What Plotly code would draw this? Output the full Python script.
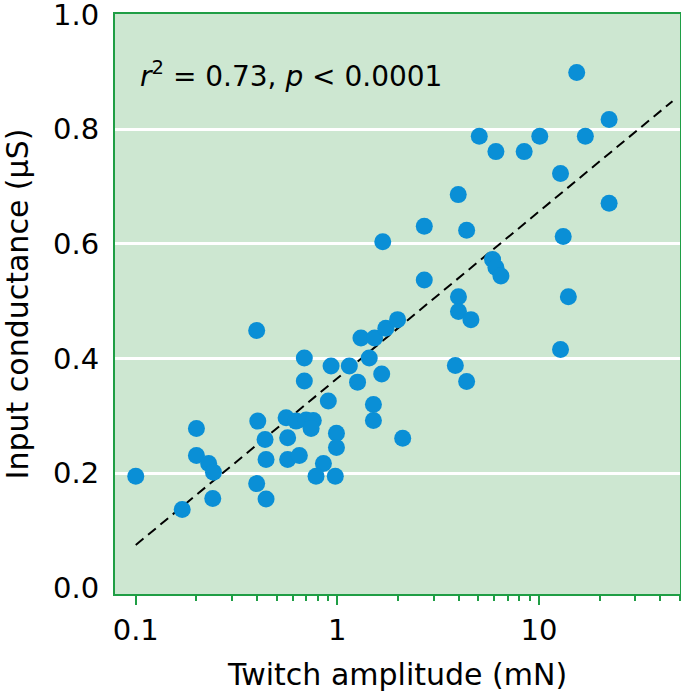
import plotly.graph_objects as go

# Data
twitch_mN = [0.10, 0.170, 0.200, 0.200, 0.230, 0.243, 0.241, 0.398, 0.403, 0.438,
             0.443, 0.398, 0.443, 0.557, 0.567, 0.567, 0.648, 0.624, 0.700, 0.760,
             0.741, 0.686, 0.686, 0.931, 1.147, 1.26, 1.44, 1.66, 1.31, 1.53,
             1.74, 1.99, 0.902, 1.51, 1.51, 2.11, 0.99, 0.99, 0.853, 0.784,
             0.977, 2.70, 4.38, 3.98, 1.68, 5.89, 6.12, 6.48, 2.70, 3.99,
             3.99, 4.60, 3.85, 4.38, 15.4, 22.3, 5.06, 10.1, 17.0, 6.12,
             8.45, 12.8, 22.3, 13.2, 14.0, 12.8]
conductance_uS = [0.195, 0.137, 0.278, 0.231, 0.217, 0.202, 0.156, 0.449, 0.291, 0.259,
                  0.224, 0.182, 0.155, 0.297, 0.262, 0.224, 0.231, 0.291, 0.293, 0.292,
                  0.278, 0.401, 0.361, 0.387, 0.387, 0.359, 0.401, 0.373, 0.436, 0.436,
                  0.453, 0.468, 0.326, 0.320, 0.292, 0.261, 0.270, 0.245, 0.217, 0.195,
                  0.195, 0.631, 0.624, 0.686, 0.604, 0.573, 0.559, 0.544, 0.537, 0.508,
                  0.482, 0.468, 0.388, 0.360, 0.899, 0.817, 0.788, 0.788, 0.788, 0.761,
                  0.761, 0.723, 0.671, 0.613, 0.508, 0.416]

fit_x = [0.1, 46.0]
fit_y = [0.075, 0.849]

x_tickvals = [0.1, 1, 10]
x_ticktext = ["0.1", "1", "10"]
x_minor = [0.2, 0.3, 0.4, 0.5, 0.6, 0.7, 0.8, 0.9,
           2, 3, 4, 5, 6, 7, 8, 9, 20, 30, 40, 50]
y_tickvals = [0.0, 0.2, 0.4, 0.6, 0.8, 1.0]
y_ticktext = ["0.0", "0.2", "0.4", "0.6", "0.8", "1.0"]

GREEN = "#1f9e45"
BG = "#cde7d1"
FONT = "DejaVu Sans"

fig = go.Figure()
fig.add_trace(go.Scatter(
    x=fit_x, y=fit_y, mode="lines",
    line=dict(color="black", width=2, dash="10px,6px"),
    showlegend=False, hoverinfo="skip"))
fig.add_trace(go.Scatter(
    x=twitch_mN, y=conductance_uS, mode="markers",
    marker=dict(size=17, color="#0a8fd6", line=dict(width=0)),
    showlegend=False))

fig.add_annotation(
    text="<i>r</i><sup>2</sup> = 0.73, <i>p</i> &lt; 0.0001",
    xref="paper", yref="paper", x=0.04, y=0.896,
    xanchor="left", yanchor="middle", showarrow=False,
    font=dict(family=FONT, size=28, color="black"))

fig.update_layout(
    width=681, height=692,
    margin=dict(l=115, r=1, t=14, b=98, autoexpand=False),
    paper_bgcolor="white", plot_bgcolor=BG,
    font=dict(family=FONT, color="black"),
    xaxis=dict(
        type="log", range=[-1.103, 1.70], automargin=False,
        tickmode="array", tickvals=x_tickvals, ticktext=x_ticktext,
        ticks="outside", ticklen=9, tickwidth=2, tickcolor=GREEN,
        minor=dict(tickmode="array", tickvals=x_minor, ticks="outside",
                   ticklen=5, tickwidth=1.5, tickcolor=GREEN, showgrid=False),
        showgrid=False, zeroline=False,
        showline=True, linecolor=GREEN, linewidth=2, mirror=True,
        tickfont=dict(family=FONT, size=29),
        ticklabeloverflow="allow",
        title=dict(text="Twitch amplitude (mN)", font=dict(family=FONT, size=30),
                   standoff=20),
    ),
    yaxis=dict(
        range=[-0.0105, 1.001], automargin=True,
        tickmode="array", tickvals=y_tickvals, ticktext=y_ticktext,
        ticks="outside", ticklen=8, tickcolor="rgba(0,0,0,0)",
        showgrid=True, gridcolor="white", gridwidth=3,
        zeroline=True, zerolinecolor=BG, zerolinewidth=4,
        showline=True, linecolor=GREEN, linewidth=2, mirror=True,
        tickfont=dict(family=FONT, size=29),
        ticklabeloverflow="allow",
        title=dict(text="Input conductance (µS)", font=dict(family=FONT, size=30),
                   standoff=22),
    ),
)

fig.write_html("out.html", config={"displayModeBar": False},
               post_script="document.body.style.margin='0';")
